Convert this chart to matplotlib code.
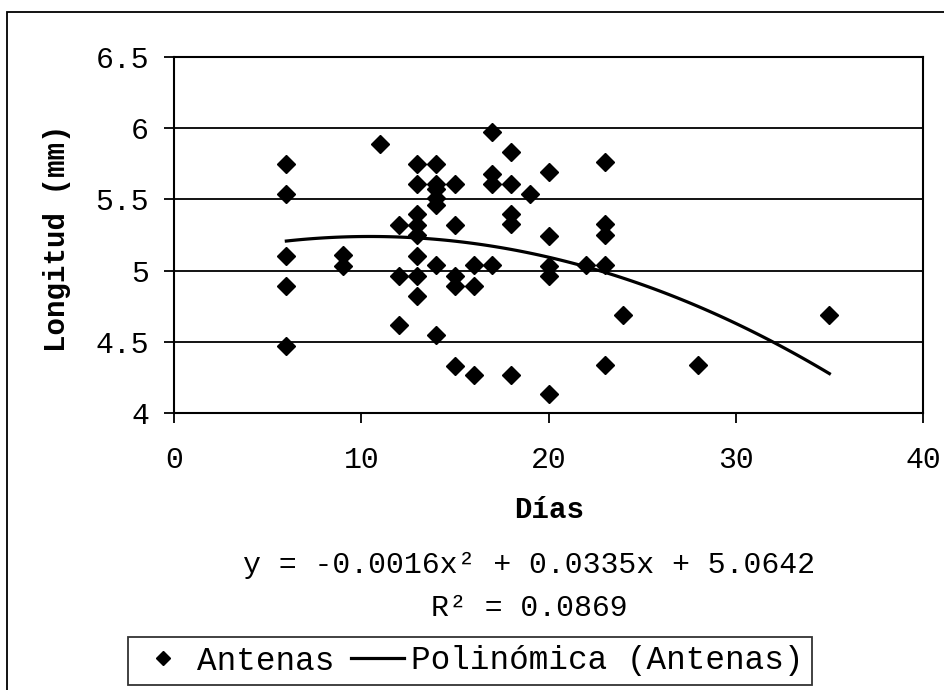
import numpy as np
import matplotlib
matplotlib.use('Agg')
from matplotlib import pyplot as plt
from matplotlib.patches import Rectangle

# Antenas: longitud (mm) vs dias
dias = [6, 6, 6, 6, 6,
        9, 9,
        11,
        12, 12, 12,
        13, 13, 13, 13, 13, 13, 13, 13,
        14, 14, 14, 14, 14, 14, 14,
        15, 15, 15, 15, 15,
        16, 16, 16,
        17, 17, 17, 17,
        18, 18, 18, 18, 18,
        19,
        20, 20, 20, 20, 20,
        22,
        23, 23, 23, 23, 23,
        24, 28, 35]
longitud = [5.75, 5.54, 5.10, 4.89, 4.47,
            5.11, 5.03,
            5.89,
            5.32, 4.96, 4.62,
            5.75, 5.61, 5.40, 5.32, 5.25, 5.10, 4.96, 4.82,
            5.75, 5.61, 5.57, 5.51, 5.46, 5.04, 4.55,
            5.61, 5.32, 4.96, 4.89, 4.33,
            5.04, 4.89, 4.27,
            5.97, 5.68, 5.61, 5.04,
            5.83, 5.61, 5.40, 5.33, 4.27,
            5.54,
            5.69, 5.24, 5.03, 4.96, 4.13,
            5.04,
            5.76, 5.33, 5.25, 5.04, 4.34,
            4.69, 4.34, 4.69]

# polynomial trend as printed on the chart
trend_coef = [-0.0016, 0.0335, 5.0642]

x_ticks = [0, 10, 20, 30, 40]
y_ticks = [4, 4.5, 5, 5.5, 6, 6.5]
y_ticklabels = ['4', '4.5', '5', '5.5', '6', '6.5']

eq_text = 'y = -0.0016x\u00b2 + 0.0335x + 5.0642'
r2_text = 'R\u00b2 = 0.0869'

plt.rcParams['font.family'] = ['Liberation Mono', 'DejaVu Sans Mono']

fig = plt.figure(figsize=(9.44, 6.9), dpi=100)
ax = fig.add_axes([174/944, 1-413/690, (923-174)/944, (413-57)/690])

ax.plot(dias, longitud, linestyle='none', marker='D', markersize=9.3,
        color='black', label='Antenas')

xs = np.linspace(min(dias), max(dias), 100)
ax.plot(xs, np.polyval(trend_coef, xs), color='black', lw=2.3,
        label='Polinómica (Antenas)')

ax.set_xlim(0, 40)
ax.set_ylim(4, 6.5)
ax.set_xticks(x_ticks)
ax.set_xticklabels([str(t) for t in x_ticks])
ax.set_yticks(y_ticks)
ax.set_yticklabels(y_ticklabels)
ax.yaxis.grid(True, color='black', lw=1.3)
ax.set_axisbelow(True)
for sp in ax.spines.values():
    sp.set_linewidth(1.5)
ax.tick_params(direction='out', length=7, width=1.3, labelsize=21.5)
ax.tick_params(axis='x', pad=17)
ax.tick_params(axis='y', pad=11)

fig.text(549/944, 1-510/690, 'Días', ha='center', va='center',
         fontsize=21, fontweight='bold')
fig.text(57/944, 1-238/690, 'Longitud (mm)', ha='center', va='center',
         rotation=90, fontsize=21, fontweight='bold')
fig.text(529/944, 1-565/690, eq_text, ha='center', va='center', fontsize=21.5)
fig.text(529/944, 1-608/690, r2_text, ha='center', va='center', fontsize=21.5)

leg = fig.legend(loc='center', bbox_to_anchor=(470/944, 1-661/690), ncol=2,
                 fontsize=23.5, frameon=True, fancybox=False, edgecolor='black',
                 handlelength=1.65, handletextpad=0.2, columnspacing=0.5,
                 borderpad=0.25, markerscale=0.75)
leg.get_frame().set_linewidth(1.3)

# outer chart frame
fig.add_artist(Rectangle((7/944, -0.2), 2, 1.2 - 12/690,
                         transform=fig.transFigure, fill=False,
                         lw=1.3, edgecolor='black'))

fig.savefig('out.png', dpi=100)
